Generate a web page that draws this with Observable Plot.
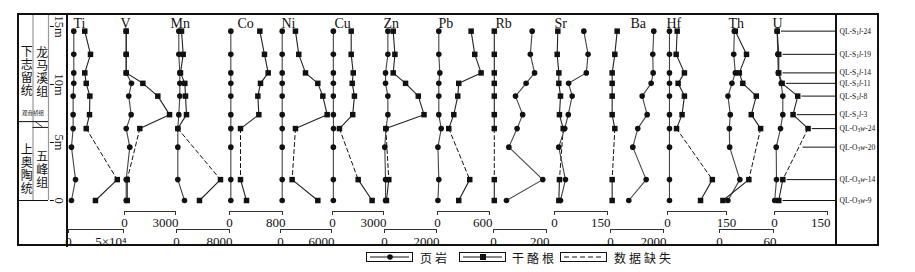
<!DOCTYPE html>
<html><head><meta charset="utf-8">
<script src="https://cdn.jsdelivr.net/npm/d3@7"></script>
<script src="https://cdn.jsdelivr.net/npm/@observablehq/plot@0.6"></script>
<style>
body{margin:0;background:#fff;}
#chart{position:relative;width:915px;height:272px;overflow:hidden;background:#fff;font-family:"Liberation Serif","DejaVu Serif",serif;}
#chart svg{position:absolute;left:0;top:0;}
.bx{position:absolute;box-sizing:border-box;}
.leg{position:absolute;font-family:"Noto Sans CJK SC",sans-serif;font-size:12px;letter-spacing:3px;line-height:12px;color:#111;}
</style></head><body><div id="chart"></div>
<script>
// ---- samples (top to bottom) ----
const samples = ["QL-S1l-24","QL-S1l-19","QL-S1l-14","QL-S1l-11","QL-S1l-8","QL-S1l-3","QL-O3w-24","QL-O3w-20","QL-O3w-14","QL-O3w-9"];
const depths  = [14.6, 12.6, 11.0, 10.1, 9.0, 7.4, 6.2, 4.6, 1.8, 0.0]; // m

// ---- elements, scale bars ----
const elements   = ["Ti","V","Mn","Co","Ni","Cu","Zn","Pb","Rb","Sr","Ba","Hf","Th","U"];
const scaleMax   = [50000,3000,8000,800,6000,3000,2000,600,200,150,2000,150,60,150];
const scaleLabel = ["5×10⁴","3000","8000","800","6000","3000","2000","600","200","150","2000","150","60","150"];

// ---- values (ppm), 页岩 = shale, 干酪根 = kerogen; null = data missing ----
const tiShale = [4800,4800,4800,4800,4200,4200,4200,2700,6400,2700];
const tiRoot  = [14800,20000,14800,16100,19400,19100,16100,null,44300,24500];
const vShale  = [100,100,100,410,250,390,100,310,100,100];
const vRoot   = [100,100,100,1080,1960,2650,900,null,160,160];
const mnShale = [350,350,500,500,500,350,200,200,200,1210];
const mnRoot  = [760,1010,600,1260,1360,1510,200,null,6640,3470];
const coShale = [20,20,20,20,20,20,20,20,20,20];
const coRoot  = [458,528,584,468,428,443,166,null,166,257];
const niShale = [200,200,200,200,200,200,200,200,200,200];
const niRoot  = [1760,2150,2940,4390,4980,5490,1760,null,1370,4390];
const cuShale = [50,50,50,50,50,50,60,50,50,50];
const cuRoot  = [1100,1100,1220,1160,1290,1190,410,null,1510,2330];
const znShale = [130,130,40,40,130,130,60,10,40,40];
const znRoot  = [335,400,335,810,1300,1520,50,null,165,75];
const pbShale = [15,15,27,15,15,15,43,5,15,5];
const pbRoot  = [388,430,503,245,234,188,130,null,372,245];
const rbShale = [146,139,155,123,83,110,89,58,186,49];
const rbRoot  = [3,3,3,3,3,3,3,null,3,3];
const srShale = [83,95,90,40,50,39,29,12,31,17];
const srRoot  = [9.4,7.6,12.3,12.3,17,14,24.6,null,14,12.3];
const baShale = [1633,1595,1610,1534,1195,1383,1029,841,1346,690];
const baRoot  = [252,163,63,63,63,63,163,null,63,63];
const hfShale = [5,5,5,5,5,5,5,5,5,5];
const hfRoot  = [24.6,22,43,27,43,37,23,null,114,84];
const thShale = [16.5,15.8,17.6,13.8,9.4,12,10.9,11.3,22.6,9.3];
const thRoot  = [17.6,30,22,25.9,40.9,35.3,45.7,null,32.6,3.8];
const uShale  = [7.6,9.3,10.5,19,23.5,23.5,17,4.8,5.7,0.5];
const uRoot   = [7.6,12,12,21.6,65.7,52.5,95,null,23.5,12];

const shaleSeries = [tiShale,vShale,mnShale,coShale,niShale,cuShale,znShale,pbShale,rbShale,srShale,baShale,hfShale,thShale,uShale];
const rootSeries  = [tiRoot,vRoot,mnRoot,coRoot,niRoot,cuRoot,znRoot,pbRoot,rbRoot,srRoot,baRoot,hfRoot,thRoot,uRoot];

// ---- stratigraphy ----
const systems    = [{name:"下志留统", base:6.8},{name:"上奥陶统", base:0}];
const formations = [{name:"龙马溪组", base:6.8},{name:"五峰组", base:0}];
const fmBoundary = 6.3;
const depthTicks = [0,5,10,15];
const depthTickLabels = ["0","5m","10m","15m"];

// ---- layout (pixels) ----
const W = 915, H = 272;
const yDomain = [0,15], yRange = [200,26];
const yPx = d3.scaleLinear(yDomain, yRange);
const frameL = 17, frameT = 13, frameR = 879, frameB = 246, sepL = 67, sepR = 836;
const panelX0 = [68,124,176,229,280,332,384,437,493,554,610,667,719,774];
const panelX1 = [123,175,229,282,331,383,436,489,546,607,663,726,773,827];
const panelRow = [2,1,2,1,2,1,2,1,2,1,2,1,2,1];
const titleDx  = [5,-4,-6,8,1,2,-1,1,2,0,20,-1,9,-2];
const barY = {1:211, 2:229};
const labPad = {1:2, 2:3};
const INK = "#111";

const chart = document.getElementById("chart");
const baseStyle = {background:"transparent", overflow:"visible", fontFamily:"'Liberation Serif','DejaVu Serif',serif", color:INK};

function gapsOf(vals){
  const out = []; let id = 0;
  vals.forEach((v,j)=>{
    if (v == null && (j===0 || vals[j-1] != null)) {
      let a=j-1, b=j; while(b<vals.length && vals[b]==null) b++;
      if (a>=0 && b<vals.length) { id++;
        out.push({g:id, depth:depths[a], v:vals[a]}, {g:id, depth:depths[b], v:vals[b]}); }
    }
  });
  return out;
}

elements.forEach((el,i)=>{
  const row = panelRow[i], max = scaleMax[i];
  const sh = depths.map((d,j)=>({depth:d, v: shaleSeries[i][j] ?? NaN}));
  const rt = depths.map((d,j)=>({depth:d, v: rootSeries[i][j] ?? NaN}));
  const marks = [
    Plot.ruleY([yPx.invert(barY[row])], {stroke:"#333", strokeWidth:1.1}),
    Plot.axisX([0,max], {tickSize:4, tickPadding:labPad[row], fontSize:13, label:null, tickFormat:d=> d===0 ? "0" : "", stroke:"#333"}),
    Plot.text([max], {x:d=>d, frameAnchor:"bottom", dy:4+labPad[row], lineAnchor:"top", fontSize:13,
      textAnchor: el==="Hf" ? "middle" : "end", dx: el==="Hf" ? 0 : 3, text:()=>scaleLabel[i]}),
    Plot.line(gapsOf(rootSeries[i]), {x:"v", y:"depth", z:"g", stroke:INK, strokeWidth:1, strokeDasharray:"4,3"}),
    Plot.line(gapsOf(shaleSeries[i]), {x:"v", y:"depth", z:"g", stroke:INK, strokeWidth:1, strokeDasharray:"4,3"}),
    Plot.line(sh, {x:"v", y:"depth", stroke:"#444", strokeWidth:1.1}),
    Plot.line(rt, {x:"v", y:"depth", stroke:"#222", strokeWidth:1.1}),
    Plot.dot(sh.filter(d=>!isNaN(d.v)), {x:"v", y:"depth", r:2.8, fill:INK, stroke:"none"}),
    Plot.dot(rt.filter(d=>!isNaN(d.v)), {x:"v", y:"depth", r:3.1, symbol:"square", fill:INK, stroke:"none"}),
    Plot.text([el], {frameAnchor:"top-left", dx:titleDx[i], dy:27, lineAnchor:"bottom", textAnchor:"start", fontSize:14, text:d=>d})
  ];
  if (el === "U") {
    const uEnd = max * (sepR - panelX0[i]) / (panelX1[i] - panelX0[i]);
    const lead = depths.map((d,j)=>{
      let r = uRoot[j];
      if (r == null) { const a=j-1, b=j+1; const t=(d-depths[a])/(depths[b]-depths[a]); r = uRoot[a] + t*(uRoot[b]-uRoot[a]); }
      return {depth:d, start: Math.max(uShale[j], r) + 12, name: samples[j]};
    });
    marks.push(Plot.ruleY(lead, {y:"depth", x1:"start", x2:()=>uEnd, stroke:INK, strokeWidth:1}));
    marks.push(Plot.text(lead, {y:"depth", x:()=>uEnd, dx:3, text:"name", textAnchor:"start", fontSize:7.5}));
  }
  const svg = Plot.plot({
    width:W, height:H, marginLeft:panelX0[i], marginRight:W-panelX1[i], marginTop:0, marginBottom:H-barY[row],
    x:{domain:[0,max], label:null}, y:{domain:yDomain, range:yRange, axis:null, label:null},
    style: baseStyle, marks
  });
  if (el === "U") {
    d3.select(svg).selectAll("text").each(function(){
      const m = /^(QL-)([SO])(\d)([a-z])(-\d+)$/.exec(this.textContent);
      if (!m) return;
      const t = d3.select(this); t.text(null);
      t.append("tspan").text(m[1]+m[2]);
      t.append("tspan").attr("font-size","5.5").attr("dy","1.5").text(m[3]);
      t.append("tspan").attr("dy","-1.5").attr("font-style","italic").text(m[4]);
      t.append("tspan").text(m[5]);
    });
  }
  chart.appendChild(svg);
});

// ---- stratigraphic column + depth axis ----
const topDepth = yPx.invert(frameT);
const colPx = 48;
const unitNames = new Set([...systems, ...formations].map(d=>d.name));
const strat = Plot.plot({
  width:W, height:H, marginLeft:frameL, marginRight:W-colPx, marginTop:0, marginBottom:0,
  x:{domain:[0,2], axis:null, label:null}, y:{domain:yDomain, range:yRange, axis:null, label:null},
  style: baseStyle,
  marks:[
    Plot.ruleX([1,2], {y1:0, y2:topDepth, stroke:"#999", strokeWidth:1.2}),
    Plot.ruleY([0], {x1:0, x2:2, stroke:INK}),
    Plot.ruleY([systems[0].base], {x1:0, x2:2, stroke:INK}),
    Plot.ruleY([fmBoundary], {x1:1, x2:2, stroke:INK}),
    Plot.link([{a:1}], {x1:()=>1.15, y1:()=>systems[0].base, x2:()=>1.6, y2:()=>fmBoundary+0.05, stroke:INK, strokeWidth:0.8}),
    Plot.text(systems, {x:()=>0.6, y:(d,k)=> k===0 ? (d.base+topDepth)/2 : (d.base+systems[0].base)/2 - 0.4, text:"name", fontFamily:"Noto Sans CJK SC", fontSize:12}),
    Plot.text(formations, {x:()=>1.6, y:(d,k)=> k===0 ? (d.base+topDepth)/2 - 0.1 : (d.base+fmBoundary)/2 - 0.2, text:"name", fontFamily:"Noto Sans CJK SC", fontSize:12}),
    Plot.text(["观音桥组"], {x:()=>1.0, y:()=>systems[0].base + 0.7, text:d=>d, fontFamily:"Noto Sans CJK SC", fontSize:5.5}),
    Plot.ruleY(depthTicks, {x1:()=>2.12, x2:()=>2.38, stroke:INK}),
    Plot.text(depthTicks, {y:d=>d, x:()=>2.65, text:(d,k)=>depthTickLabels[k], rotate:90, fontSize:12.5})
  ]
});
// vertical (top-to-bottom) writing for the unit names
d3.select(strat).selectAll("text").each(function(){
  if (!unitNames.has(this.textContent)) return;
  d3.select(this).attr("dy", null).style("writing-mode","vertical-rl").style("letter-spacing","1.2px");
});
chart.appendChild(strat);

// ---- frame and separators ----
function box(l,t,w,h,css){ const d=document.createElement("div"); d.className="bx"; Object.assign(d.style,{left:l+"px",top:t+"px",width:w+"px",height:h+"px"},css); chart.appendChild(d); }
box(frameL, frameT, frameR-frameL, frameB-frameT, {border:"2px solid "+INK});
box(sepL-0.7, frameT, 1.4, frameB-frameT+1, {background:INK});
box(sepR-0.6, frameT, 1.2, frameB-frameT, {background:INK});

// ---- legend ----
const legendItems = [{label:"页岩", kind:"circle"},{label:"干酪根", kind:"square"},{label:"数据缺失", kind:"dash"}];
const legendBoxX = [366,459,560], legendTextX = [420,512,614];
legendItems.forEach((it,k)=>{
  const s = d3.create("svg").attr("width",48).attr("height",11)
    .style("left",legendBoxX[k]+"px").style("top","252px");
  s.append("rect").attr("x",0.5).attr("y",0.5).attr("width",46).attr("height",9).attr("fill","none").attr("stroke",INK);
  s.append("line").attr("x1",4).attr("x2",43).attr("y1",5).attr("y2",5).attr("stroke",INK)
    .attr("stroke-dasharray", it.kind==="dash" ? "5,3" : null);
  if (it.kind==="circle") s.append("circle").attr("cx",24).attr("cy",5).attr("r",2.8).attr("fill",INK);
  if (it.kind==="square") s.append("rect").attr("x",21).attr("y",2).attr("width",6).attr("height",6).attr("fill",INK);
  chart.appendChild(s.node());
  const t = document.createElement("div"); t.className="leg"; t.textContent = it.label;
  t.style.left = legendTextX[k]+"px"; t.style.top = "252px";
  chart.appendChild(t);
});
</script>
</body></html>
